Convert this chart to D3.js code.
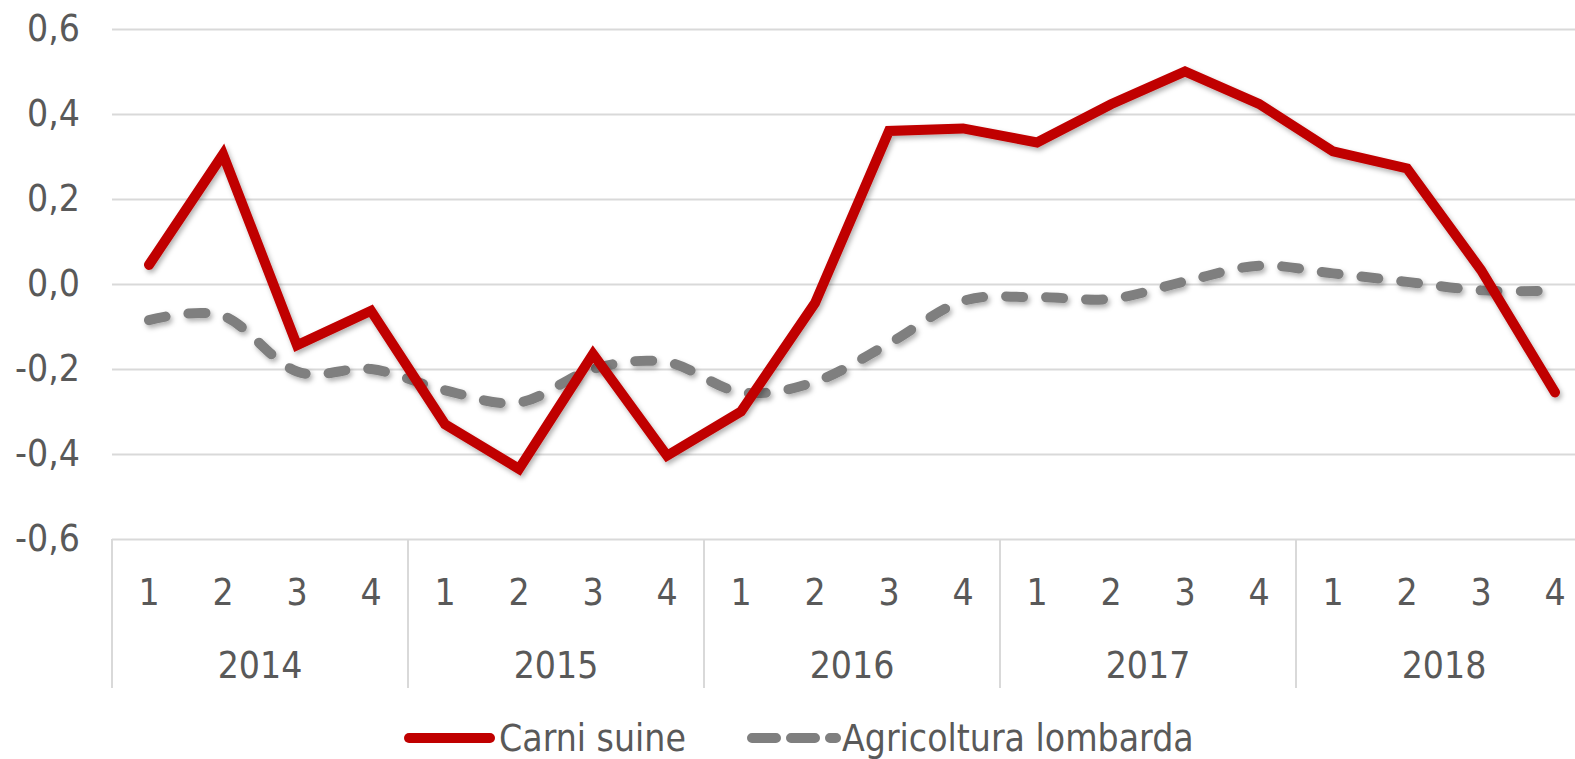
<!DOCTYPE html>
<html>
<head>
<meta charset="utf-8">
<script src="https://cdn.jsdelivr.net/npm/d3@7"></script>
<style>
  html, body { margin: 0; padding: 0; background: #fff; overflow: hidden; }
  text { font-family: "DejaVu Sans Condensed", "DejaVu Sans", sans-serif; fill: #595959; }
</style>
</head>
<body>
<svg id="chart" width="1575" height="759"></svg>
<script>
"use strict";

// quarters and years on the x axis
var years = ["2014", "2015", "2016", "2017", "2018"];
var quarters = ["1", "2", "3", "4"];

// values
var carniSuine = [0.045, 0.305, -0.144, -0.063, -0.33, -0.435, -0.165, -0.404, -0.30, -0.045,
                  0.36, 0.366, 0.333, 0.423, 0.50, 0.424, 0.312, 0.272, 0.033, -0.255];
var agricoltura = [-0.085, -0.075, -0.206, -0.20, -0.25, -0.279, -0.20, -0.184, -0.255, -0.23,
                   -0.14, -0.04, -0.031, -0.035, 0.006, 0.043, 0.025, 0.005, -0.015, -0.016];

var yTicks = [-0.6, -0.4, -0.2, 0, 0.2, 0.4, 0.6];
var seriesNames = ["Carni suine", "Agricoltura lombarda"];

var W = 1575, H = 759;
var margin = {top: 29, left: 112, bottom: 539};
var step = 74; // width of one quarter

var svg = d3.select("#chart");

// italian number format: comma decimal, plain hyphen minus
var it = d3.formatLocale({decimal: ",", thousands: ".", grouping: [3], currency: ["", "€"], minus: "-"});
var fmt = it.format(".1f");

var cats = [];
years.forEach(function(yr, yi) {
  quarters.forEach(function(q, qi) { cats.push(yi * 4 + qi); });
});

var x = d3.scaleBand()
    .domain(cats)
    .range([margin.left, margin.left + step * cats.length]);

var y = d3.scaleLinear()
    .domain([-0.6, 0.6])
    .range([margin.bottom, margin.top]);

// drop shadow like the office chart
var defs = svg.append("defs");
var f = defs.append("filter").attr("id", "shadow")
    .attr("x", "-5%").attr("y", "-10%").attr("width", "110%").attr("height", "130%");
f.append("feDropShadow")
    .attr("dx", 2).attr("dy", 3).attr("stdDeviation", 2.5)
    .attr("flood-color", "#000").attr("flood-opacity", 0.3);

// gridlines + y labels
var yAxis = svg.append("g")
    .attr("transform", "translate(" + margin.left + ",0)")
    .call(d3.axisLeft(y)
      .tickValues(yTicks)
      .tickSize(-(W - margin.left))
      .tickPadding(32)
      .tickFormat(fmt));
yAxis.select(".domain").remove();
yAxis.selectAll(".tick line")
    .attr("stroke", "#d9d9d9")
    .attr("stroke-width", 2);
yAxis.selectAll(".tick text")
    .attr("font-size", 37)
    .attr("fill", "#595959");

// category separators (years)
var seps = d3.range(0, years.length + 1).map(function(k) { return margin.left + k * 4 * step; });
svg.append("g").selectAll("line")
    .data(seps)
    .enter().append("line")
    .attr("x1", function(d) { return d; })
    .attr("x2", function(d) { return d; })
    .attr("y1", margin.bottom)
    .attr("y2", 688)
    .attr("stroke", "#d9d9d9")
    .attr("stroke-width", 2);

// quarter labels
var xAxis = svg.append("g")
    .attr("transform", "translate(0," + margin.bottom + ")")
    .call(d3.axisBottom(x)
      .tickSize(0)
      .tickPadding(0)
      .tickFormat(function(i) { return quarters[i % 4]; }));
xAxis.select(".domain").remove();
xAxis.selectAll(".tick text")
    .attr("y", 53)
    .attr("dy", "0.35em")
    .attr("font-size", 37)
    .attr("fill", "#595959");

// year labels
svg.append("g").selectAll("text")
    .data(years)
    .enter().append("text")
    .attr("x", function(d, i) { return x(i * 4) + 2 * step; })
    .attr("y", 665)
    .attr("dy", "0.35em")
    .attr("text-anchor", "middle")
    .attr("font-size", 37)
    .text(function(d) { return d; });

// lines
var cx = function(d, i) { return x(i) + x.bandwidth() / 2; };

var lineGray = d3.line()
    .x(cx)
    .y(function(d) { return y(d); })
    .curve(d3.curveCatmullRom.alpha(0));

var lineRed = d3.line()
    .x(cx)
    .y(function(d) { return y(d); });

svg.append("path")
    .datum(agricoltura)
    .attr("d", lineGray)
    .attr("fill", "none")
    .attr("stroke", "#7f7f7f")
    .attr("stroke-width", 10)
    .attr("stroke-linecap", "round")
    .attr("stroke-dasharray", "17,23")
    .attr("filter", "url(#shadow)");

svg.append("path")
    .datum(carniSuine)
    .attr("d", lineRed)
    .attr("fill", "none")
    .attr("stroke", "#c00000")
    .attr("stroke-width", 10)
    .attr("stroke-linecap", "round")
    .attr("stroke-linejoin", "miter")
    .attr("filter", "url(#shadow)");

// legend
var legendY = 738;
var leg = svg.append("g");
leg.append("line")
    .attr("x1", 409).attr("x2", 490)
    .attr("y1", legendY).attr("y2", legendY)
    .attr("stroke", "#c00000")
    .attr("stroke-width", 10)
    .attr("stroke-linecap", "round");
leg.append("text")
    .attr("x", 499).attr("y", legendY)
    .attr("dy", "0.35em")
    .attr("font-size", 37)
    .text(seriesNames[0]);
leg.append("line")
    .attr("x1", 752).attr("x2", 836)
    .attr("y1", legendY).attr("y2", legendY)
    .attr("stroke", "#7f7f7f")
    .attr("stroke-width", 10)
    .attr("stroke-linecap", "round")
    .attr("stroke-dasharray", "24,15");
leg.append("text")
    .attr("x", 842).attr("y", legendY)
    .attr("dy", "0.35em")
    .attr("font-size", 37)
    .text(seriesNames[1]);
</script>
</body>
</html>
